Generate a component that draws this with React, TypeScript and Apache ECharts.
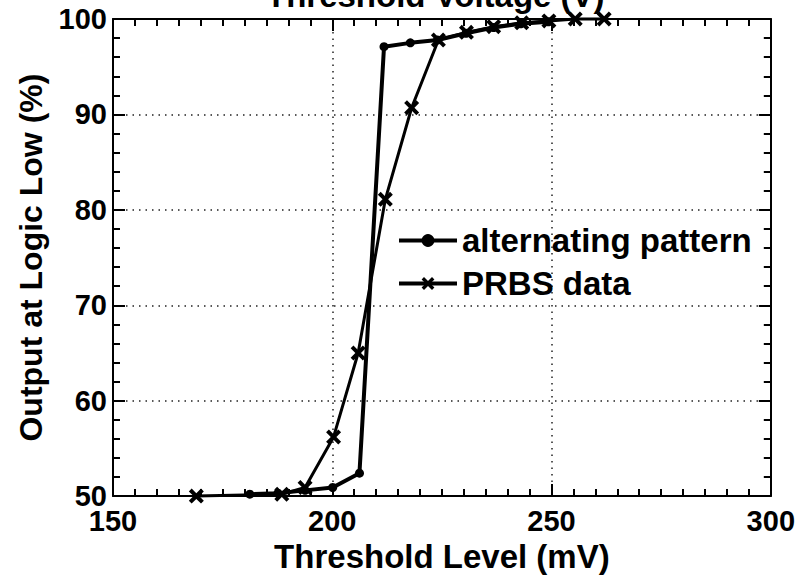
import React, { useEffect, useRef } from "react";
import * as echarts from "echarts";

const altThreshold = [181.2, 187.6, 193.8, 200.1, 206.2, 211.8, 217.8, 224.0, 230.5, 236.8, 243.0, 249.3];
const altLow = [50.2, 50.3, 50.6, 50.9, 52.4, 97.1, 97.5, 97.8, 98.5, 99.1, 99.5, 99.7];
const prbsThreshold = [169.0, 188.5, 193.8, 200.3, 205.9, 212.1, 218.1, 224.2, 230.6, 236.8, 243.2, 249.4, 255.4, 262.0];
const prbsLow = [50.0, 50.2, 50.9, 56.2, 65.0, 81.1, 90.7, 97.8, 98.6, 99.2, 99.6, 99.8, 100, 100];
const seriesNames = ["alternating pattern", "PRBS data"];
const titleText = "Threshold Voltage (V)";
const xName = "Threshold Level (mV)";
const yName = "Output at Logic Low (%)";

const FONT = "'Liberation Sans', Arial, Helvetica, sans-serif";
const X_SYMBOL =
  "path://M0,3 L3,0 L8,5 L13,0 L16,3 L11,8 L16,13 L13,16 L8,11 L3,16 L0,13 L5,8 Z";

export default function App() {
  const ref = useRef<HTMLDivElement>(null);
  useEffect(() => {
    document.body.style.margin = "0";
    const chart = echarts.init(ref.current!, null, { renderer: "svg" });
    const axisLine = { show: true, onZero: false, lineStyle: { color: "#000", width: 2 } };
    const tick = { show: true, inside: true, length: 12, lineStyle: { color: "#000", width: 2 } };
    const grid = { show: true, lineStyle: { color: "#222", width: 1.5, type: [1.5, 5] } };
    const label = { fontFamily: FONT, fontWeight: "bold", fontSize: 29, color: "#000" };
    chart.setOption({
      animation: false,
      backgroundColor: "#fff",
      title: {
        text: titleText,
        left: 266,
        top: -21,
        padding: 0,
        textStyle: { fontFamily: FONT, fontWeight: "bold", fontSize: 33, color: "#000" },
      },
      grid: { left: 113, right: 26, top: 19, bottom: 77 },
      legend: {
        orient: "vertical",
        left: 397,
        top: 224,
        padding: 0,
        itemGap: 10,
        itemWidth: 58,
        itemHeight: 16,
        textStyle: { fontFamily: FONT, fontWeight: "bold", fontSize: 33, color: "#000" },
        data: [
          { name: seriesNames[0], lineStyle: { width: 4 } },
          { name: seriesNames[1], lineStyle: { width: 4 } },
        ],
      },
      xAxis: [
        {
          type: "value",
          min: 150,
          max: 300,
          interval: 50,
          position: "bottom",
          axisLine,
          axisTick: tick,
          minorTick: { show: true, splitNumber: 10, length: 7, lineStyle: { color: "#000", width: 2 } },
          splitLine: grid,
          axisLabel: { ...label, margin: 10 },
          name: xName,
          nameLocation: "middle",
          nameGap: 38,
          nameTextStyle: { fontFamily: FONT, fontWeight: "bold", fontSize: 33, color: "#000" },
        },
        {
          type: "value",
          min: 150,
          max: 300,
          interval: 50,
          position: "top",
          axisLine,
          axisTick: tick,
          minorTick: { show: true, splitNumber: 10, length: 7, lineStyle: { color: "#000", width: 2 } },
          splitLine: { show: false },
          axisLabel: { show: false },
        },
      ],
      yAxis: [
        {
          type: "value",
          min: 50,
          max: 100,
          interval: 10,
          position: "left",
          axisLine,
          axisTick: tick,
          minorTick: { show: true, splitNumber: 5, length: 7, lineStyle: { color: "#000", width: 2 } },
          splitLine: grid,
          axisLabel: { ...label, margin: 6 },
          name: yName,
          nameLocation: "middle",
          nameGap: 66,
          nameTextStyle: { fontFamily: FONT, fontWeight: "bold", fontSize: 32, color: "#000" },
        },
        {
          type: "value",
          min: 50,
          max: 100,
          interval: 10,
          position: "right",
          axisLine,
          axisTick: tick,
          minorTick: { show: true, splitNumber: 5, length: 7, lineStyle: { color: "#000", width: 2 } },
          splitLine: { show: false },
          axisLabel: { show: false },
        },
      ],
      series: [
        {
          name: seriesNames[0],
          type: "line",
          clip: false,
          data: altThreshold.map((x, i) => [x, altLow[i]]),
          symbol: "circle",
          symbolSize: 9,
          lineStyle: { color: "#000", width: 4 },
          itemStyle: { color: "#000" },
          z: 3,
        },
        {
          name: seriesNames[1],
          type: "line",
          clip: false,
          data: prbsThreshold.map((x, i) => [x, prbsLow[i]]),
          symbol: X_SYMBOL,
          symbolSize: 15,
          lineStyle: { color: "#000", width: 3 },
          itemStyle: { color: "#000" },
          z: 4,
        },
      ],
    });
    return () => chart.dispose();
  }, []);
  return <div ref={ref} style={{ width: 798, height: 578 }} />;
}
